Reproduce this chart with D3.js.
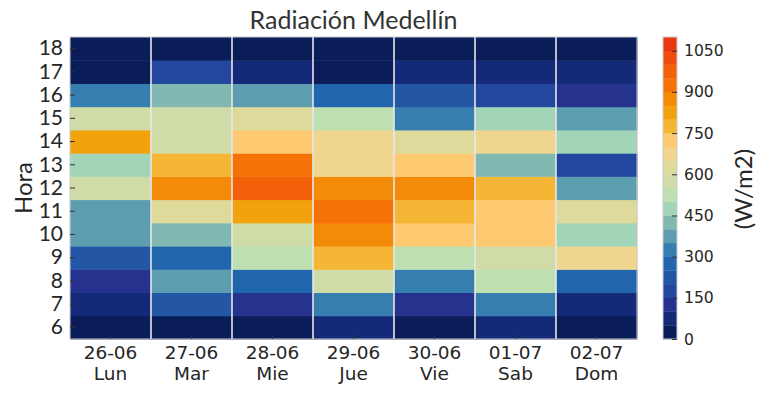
<!DOCTYPE html>
<html>
<head>
<meta charset="utf-8">
<script src="https://cdn.jsdelivr.net/npm/d3@7"></script>
<style>
    body { margin: 0; background: #fff; }
    svg { display: block; }
</style>
</head>
<body>
<div id="chart"></div>
<script>
// Datos: radiacion (W/m2) por hora, una lista por dia
//----------------------------------------------------
var hours = [6, 7, 8, 9, 10, 11, 12, 13, 14, 15, 16, 17, 18];
var dates = ["26-06", "27-06", "28-06", "29-06", "30-06", "01-07", "02-07"];
var weekdays = ["Lun", "Mar", "Mie", "Jue", "Vie", "Sab", "Dom"];

// valores de 6h a 18h
var rad2606 = [10, 70, 130, 220, 370, 380, 570, 480, 820, 560, 320, 40, 5];
var rad2706 = [15, 230, 360, 270, 420, 610, 870, 770, 580, 570, 410, 170, 10];
var rad2806 = [20, 120, 280, 520, 560, 830, 970, 920, 720, 620, 380, 80, 10];
var rad2906 = [60, 330, 570, 770, 880, 930, 870, 670, 680, 530, 270, 30, 5];
var rad3006 = [30, 140, 320, 510, 730, 780, 860, 720, 630, 340, 240, 70, 10];
var rad0107 = [60, 310, 540, 590, 740, 730, 790, 430, 660, 470, 180, 90, 15];
var rad0207 = [20, 80, 260, 690, 460, 640, 360, 190, 490, 390, 110, 60, 10];
var radiation = [rad2606, rad2706, rad2806, rad2906, rad3006, rad0107, rad0207];

// escala de color: 22 niveles de 50 W/m2
var levelColors = [
    "#0a1d58", "#142a78", "#25338f", "#23469e", "#2356a5", "#2166ac",
    "#377eb0", "#5d9db0", "#81b9b2", "#a2d5b8", "#bedfb0", "#cfdca8",
    "#ddda9c", "#efd58e", "#fdca72", "#f5b636", "#f2a20c", "#f48b08",
    "#f57306", "#f2600a", "#ef4c0f", "#e8380f"
];
var colorTicks = [0, 150, 300, 450, 600, 750, 900, 1050];

//----------------------------------------------------
var width = 764, height = 395;
var plot = { left: 70, right: 637, top: 37, bottom: 339 };
var cbar = { left: 663, right: 677 };
var dejavu = "'DejaVu Sans', sans-serif";
var avenir = "Lato, sans-serif";

var svg = d3.select("#chart").append("svg")
    .attr("width", width)
    .attr("height", height);

var x = d3.scaleBand().domain(dates).range([plot.left, plot.right]);
var y = d3.scaleBand().domain(hours.slice().reverse()).range([plot.top, plot.bottom]);
var color = d3.scaleQuantize().domain([0, 1100]).range(levelColors);

// celdas
var cells = [];
dates.forEach(function (d, i) {
    hours.forEach(function (h, j) {
        cells.push({ date: d, hour: h, value: radiation[i][j] });
    });
});

svg.append("g").selectAll("rect")
    .data(cells)
    .enter().append("rect")
    .attr("x", function (d) { return x(d.date); })
    .attr("y", function (d) { return y(d.hour); })
    .attr("width", x.bandwidth() + 0.5)
    .attr("height", y.bandwidth() + 0.5)
    .attr("fill", function (d) { return color(d.value); });

// lineas blancas entre dias
svg.append("g").selectAll("line")
    .data(dates.slice(1))
    .enter().append("line")
    .attr("x1", function (d) { return x(d); })
    .attr("x2", function (d) { return x(d); })
    .attr("y1", plot.top)
    .attr("y2", plot.bottom)
    .attr("stroke", "#e8e8e8")
    .attr("stroke-width", 1.6);

svg.append("rect")
    .attr("x", plot.left).attr("y", plot.top)
    .attr("width", plot.right - plot.left)
    .attr("height", plot.bottom - plot.top)
    .attr("fill", "none")
    .attr("stroke", "#cccccc");

// eje y
var yAxis = svg.append("g")
    .attr("transform", "translate(" + plot.left + ",0)")
    .call(d3.axisLeft(y).tickSize(-5).tickPadding(7));
yAxis.select(".domain").remove();
yAxis.selectAll("line").attr("stroke", "#333");
yAxis.selectAll("text")
    .attr("fill", "#262626")
    .style("font-family", avenir)
    .style("font-size", "21px");

// eje x (fecha + dia)
var xAxis = svg.append("g")
    .attr("transform", "translate(0," + plot.bottom + ")")
    .call(d3.axisBottom(x).tickSize(-4).tickFormat(""));
xAxis.select(".domain").remove();
xAxis.selectAll("line").attr("stroke", "#333");
xAxis.selectAll(".tick").append("text")
    .attr("text-anchor", "middle")
    .attr("fill", "#262626")
    .style("font-family", dejavu)
    .style("font-size", "18.5px")
    .each(function (d, i) {
        var t = d3.select(this);
        t.append("tspan").attr("x", 0).attr("y", 20).text(d);
        t.append("tspan").attr("x", 0).attr("y", 41).text(weekdays[i]);
    });

// barra de color
var cScale = d3.scaleLinear().domain([0, 1100]).range([plot.bottom, plot.top]);
svg.append("g").selectAll("rect")
    .data(levelColors)
    .enter().append("rect")
    .attr("x", cbar.left)
    .attr("y", function (c, i) { return cScale((i + 1) * 50); })
    .attr("width", cbar.right - cbar.left)
    .attr("height", function (c, i) { return cScale(i * 50) - cScale((i + 1) * 50) + 0.3; })
    .attr("fill", function (c) { return c; });

svg.append("rect")
    .attr("x", cbar.left).attr("y", plot.top)
    .attr("width", cbar.right - cbar.left)
    .attr("height", plot.bottom - plot.top)
    .attr("fill", "none")
    .attr("stroke", "#cccccc");

var cAxis = svg.append("g")
    .attr("transform", "translate(" + cbar.right + ",0)")
    .call(d3.axisRight(cScale).tickValues(colorTicks).tickFormat(d3.format("d"))
        .tickSize(-5).tickPadding(7));
cAxis.select(".domain").remove();
cAxis.selectAll("line").attr("stroke", "#333");
cAxis.selectAll("text")
    .attr("fill", "#262626")
    .style("font-family", dejavu)
    .style("font-size", "15.6px");

// textos
svg.append("text")
    .attr("x", (plot.left + plot.right) / 2)
    .attr("y", 29)
    .attr("text-anchor", "middle")
    .attr("fill", "#333")
    .style("font-family", avenir)
    .style("font-size", "25px")
    .text("Radiación Medellín");

svg.append("text")
    .attr("transform", "translate(32," + (plot.top + plot.bottom) / 2 + ") rotate(-90)")
    .attr("text-anchor", "middle")
    .attr("fill", "#262626")
    .style("font-family", avenir)
    .style("font-size", "24px")
    .text("Hora");

svg.append("text")
    .attr("transform", "translate(752,189) rotate(-90)")
    .attr("text-anchor", "middle")
    .attr("fill", "#262626")
    .style("font-family", avenir)
    .style("font-size", "24px")
    .text("(W/m2)");
</script>
</body>
</html>
